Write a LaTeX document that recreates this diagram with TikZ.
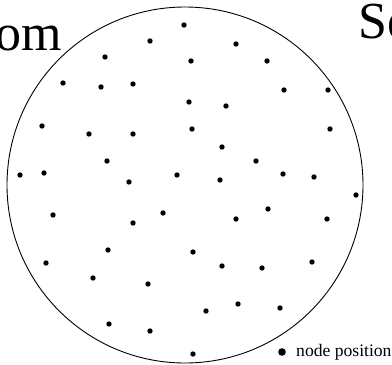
\documentclass[tikz,border=0pt]{standalone}
\usepackage{fontspec}
\setmainfont{Liberation Serif}
\usetikzlibrary{positioning}

\begin{document}
\begin{tikzpicture}[
    x=1pt, y=-1pt,
    title/.style={inner sep=0pt, font=\fontsize{52}{52}\selectfont},
    legend/.style={inner sep=0pt, font=\fontsize{17.6}{17.6}\selectfont},
    dotmark/.style={fill=black}
]
\clip (0,0) rectangle (392,365);

% Titles cut by the frame
\node[title, anchor=base east] (random) at (62,50) {om};
\node[title, anchor=base west] (second) at (358,38) {Se};

% Region
\draw[line width=0.9pt] (185,185) circle[radius=178];

% Node positions
\foreach \px/\py in {184/25, 150/41, 236/44, 105/57, 191/61, 267/61, 63/83, 101/87,
    133/84, 284/90, 328/90, 189/102, 226/106, 42/126, 89/134, 133/134, 192/129,
    330/129, 222/147, 107/161, 256/161, 20/175, 44/173, 129/182, 177/175, 283/174,
    314/177, 220/180, 356/195, 53/215, 163/213, 133/223, 268/209, 236/219, 327/219,
    108/250, 193/252, 46/263, 93/278, 148/284, 222/266, 262/268, 312/262, 109/324,
    150/331, 193/354, 206/311, 238/304, 280/308} {
    \fill[dotmark] (\px,\py) circle[radius=2.7];
}

% Legend
\fill[dotmark] (282,352) circle[radius=3.8];
\node[legend, anchor=base west] (legendtext) at (296,356) {node position};

\end{tikzpicture}
\end{document}
